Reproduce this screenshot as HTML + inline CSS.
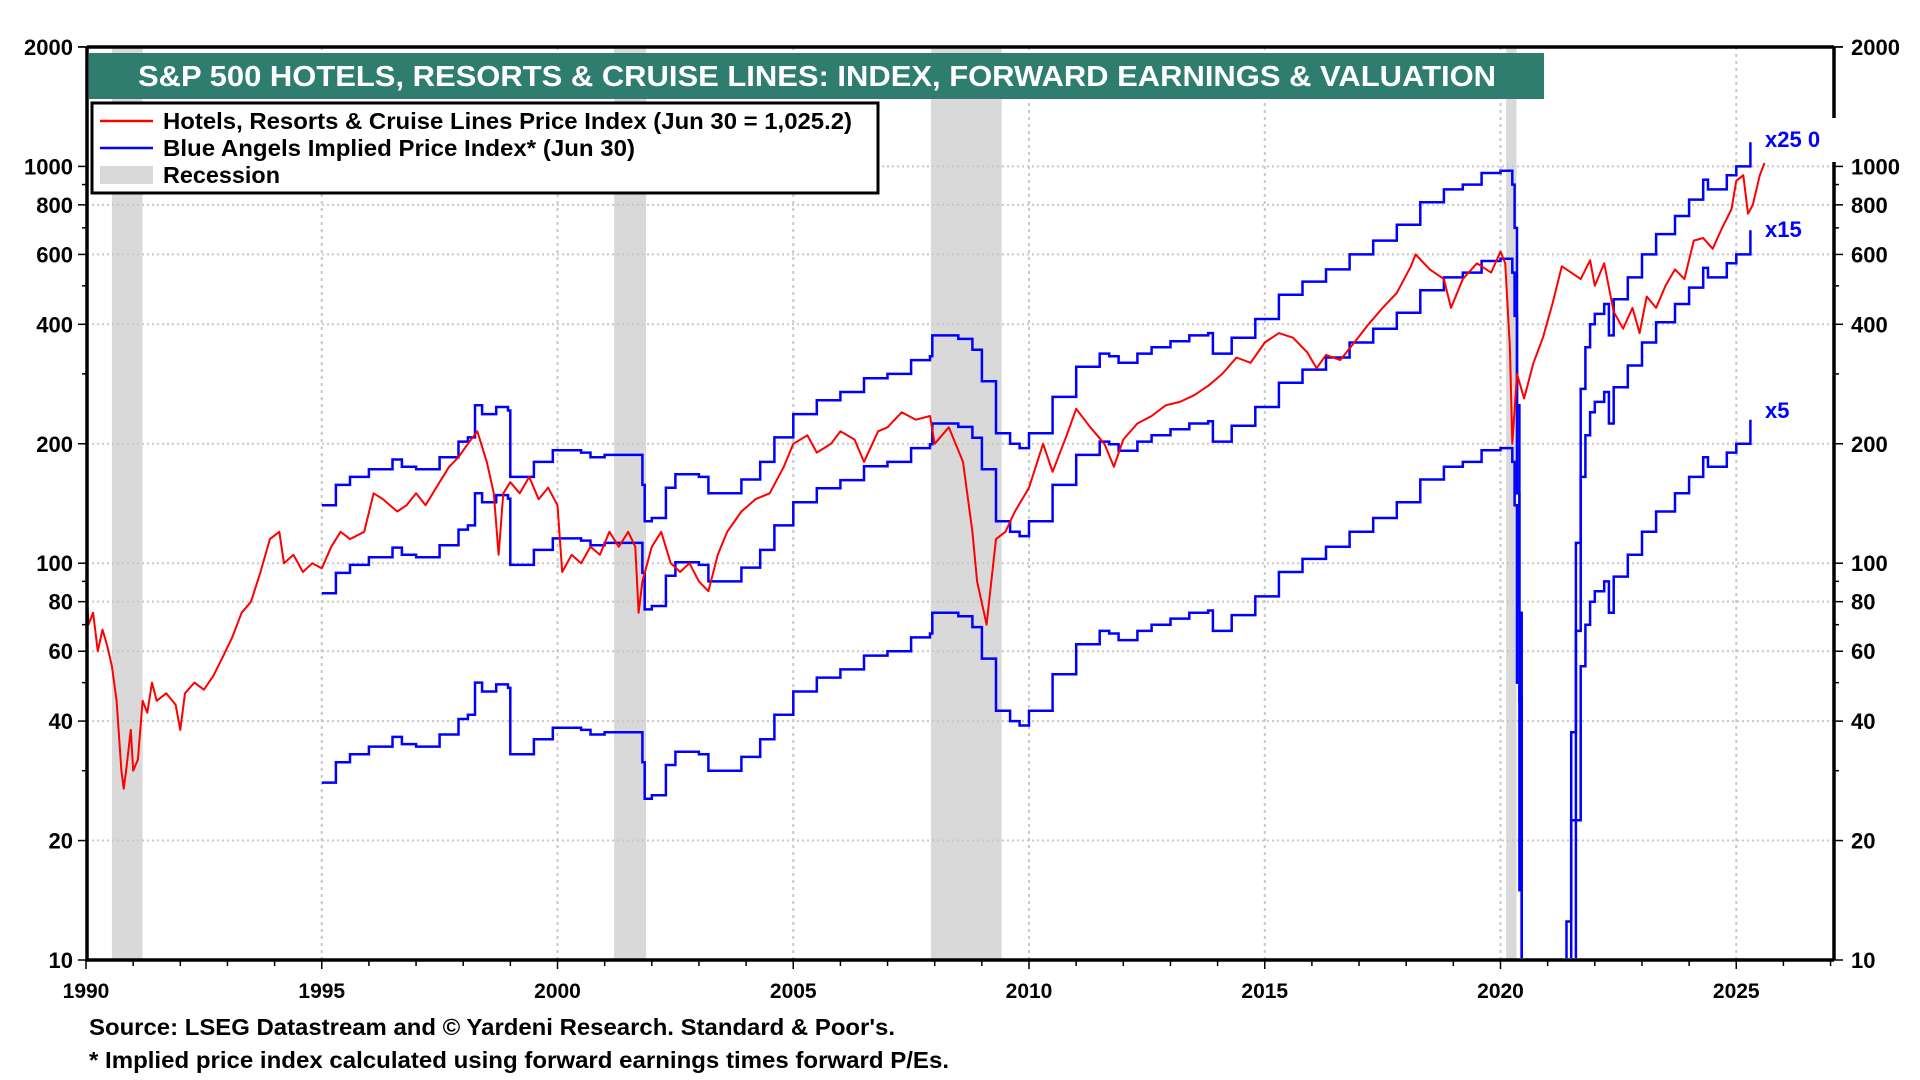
<!DOCTYPE html>
<html><head><meta charset="utf-8"><style>
html,body{margin:0;padding:0;background:#fff;overflow:hidden;width:1920px;height:1080px;}
svg{display:block;font-family:"Liberation Sans",Arial,sans-serif;}
</style></head><body>
<svg id="chart" width="1920" height="1080" viewBox="0 0 1920 1080" xmlns="http://www.w3.org/2000/svg">
<defs><clipPath id="plotclip"><rect x="88" y="49" width="1744" height="909"/></clipPath></defs>
<g id="recessions"></g>
<g id="grid"></g>
<g id="series" clip-path="url(#plotclip)"></g>
<g id="axes"></g>
<rect x="89" y="53" width="1455" height="46" fill="#2e7d6f"/>
<text x="138" y="86" font-size="29" font-weight="bold" fill="#fff" textLength="1358" lengthAdjust="spacingAndGlyphs">S&amp;P 500 HOTELS, RESORTS &amp; CRUISE LINES: INDEX, FORWARD EARNINGS &amp; VALUATION</text>
<g>
<rect x="92" y="103" width="786" height="90" fill="#fff" stroke="#000" stroke-width="3"/>
<line x1="100" y1="121" x2="153" y2="121" stroke="#ff0000" stroke-width="2.5"/>
<text x="163" y="129" font-size="23" font-weight="bold" textLength="689" lengthAdjust="spacingAndGlyphs">Hotels, Resorts &amp; Cruise Lines Price Index (Jun 30 = 1,025.2)</text>
<line x1="100" y1="148" x2="153" y2="148" stroke="#0000ff" stroke-width="2.5"/>
<text x="163" y="156" font-size="23" font-weight="bold" textLength="472" lengthAdjust="spacingAndGlyphs">Blue Angels Implied Price Index* (Jun 30)</text>
<rect x="100" y="166" width="53" height="18" fill="#d9d9d9"/>
<text x="163" y="183" font-size="23" font-weight="bold" textLength="117" lengthAdjust="spacingAndGlyphs">Recession</text>
</g>
<text x="1765" y="147" font-size="22" font-weight="bold" fill="#0000ff">x25  0</text>
<text x="1765" y="237" font-size="22" font-weight="bold" fill="#0000ff">x15</text>
<text x="1765" y="418" font-size="22" font-weight="bold" fill="#0000ff">x5</text>
<text x="89" y="1035" font-size="23" font-weight="bold" textLength="806" lengthAdjust="spacingAndGlyphs">Source: LSEG Datastream and © Yardeni Research. Standard &amp; Poor's.</text>
<text x="89" y="1068" font-size="23" font-weight="bold" textLength="860" lengthAdjust="spacingAndGlyphs">* Implied price index calculated using forward earnings times forward P/Es.</text>
</svg>
<script>
const yTicks = [10,20,40,60,80,100,200,400,600,800,1000,2000];
const xTicks = [1990,1995,2000,2005,2010,2015,2020,2025];
const recessionStart = [1990.55,2001.2,2007.92,2020.12];
const recessionEnd = [1991.2,2001.88,2009.42,2020.34];
const multiples = [5,15,25];
const epsYears = [1995.0,1995.3,1995.6,1996.0,1996.5,1996.7,1997.0,1997.5,1997.9,1998.1,1998.25,1998.4,1998.7,1998.95,1999.0,1999.5,1999.9,2000.5,2000.7,2001.0,2001.7,2001.8,2001.85,2002.0,2002.3,2002.5,2003.0,2003.2,2003.5,2003.9,2004.3,2004.6,2005.0,2005.5,2006.0,2006.5,2007.0,2007.5,2007.9,2007.95,2008.5,2008.8,2009.0,2009.3,2009.6,2009.8,2010.0,2010.5,2011.0,2011.5,2011.7,2011.9,2012.3,2012.6,2013.0,2013.4,2013.8,2013.9,2014.3,2014.8,2015.3,2015.8,2016.3,2016.8,2017.3,2017.8,2018.3,2018.8,2019.2,2019.6,2020.0,2020.15,2020.25,2020.3,2020.35,2020.4,2020.45,2021.35,2021.4,2021.5,2021.6,2021.7,2021.8,2021.9,2022.0,2022.2,2022.3,2022.4,2022.7,2023.0,2023.3,2023.7,2024.0,2024.3,2024.4,2024.8,2025.0,2025.3];
const epsValues = [5.6,6.3,6.6,6.9,7.3,7.0,6.9,7.4,8.1,8.3,10.0,9.5,9.9,9.7,6.6,7.2,7.7,7.6,7.4,7.5,7.5,6.3,5.1,5.2,6.2,6.7,6.6,6.0,6.0,6.5,7.2,8.3,9.5,10.3,10.8,11.7,12.0,13.0,13.3,15.0,14.7,13.8,11.5,8.5,8.0,7.8,8.5,10.5,12.5,13.5,13.3,12.8,13.5,14.0,14.5,15.0,15.2,13.5,14.8,16.5,19.0,20.5,22.0,24.0,26.0,28.5,32.5,35.0,36.0,38.5,39.0,39.0,36,28,10,3,0.1,0.1,0.5,1.5,4.5,11,14,16,17,18,15,18.5,21,24,27,30,33,37,35,38,40,46];
const priceYears = [1990.0,1990.05,1990.15,1990.25,1990.35,1990.45,1990.55,1990.65,1990.75,1990.8,1990.85,1990.95,1991.0,1991.1,1991.2,1991.3,1991.4,1991.5,1991.7,1991.9,1992.0,1992.1,1992.3,1992.5,1992.7,1992.9,1993.1,1993.3,1993.5,1993.7,1993.9,1994.1,1994.2,1994.4,1994.6,1994.8,1995.0,1995.2,1995.4,1995.6,1995.9,1996.1,1996.3,1996.6,1996.8,1997.0,1997.2,1997.5,1997.7,1997.9,1998.1,1998.3,1998.5,1998.65,1998.75,1998.85,1999.0,1999.2,1999.4,1999.6,1999.8,2000.0,2000.1,2000.3,2000.5,2000.7,2000.9,2001.1,2001.3,2001.5,2001.65,2001.72,2001.8,2002.0,2002.2,2002.4,2002.6,2002.8,2003.0,2003.2,2003.4,2003.6,2003.9,2004.2,2004.5,2004.8,2005.0,2005.3,2005.5,2005.8,2006.0,2006.3,2006.5,2006.8,2007.0,2007.3,2007.6,2007.9,2008.0,2008.3,2008.6,2008.8,2008.9,2009.1,2009.2,2009.3,2009.5,2009.7,2010.0,2010.3,2010.5,2010.8,2011.0,2011.3,2011.6,2011.8,2012.0,2012.3,2012.6,2012.9,2013.2,2013.5,2013.8,2014.1,2014.4,2014.7,2015.0,2015.3,2015.6,2015.9,2016.1,2016.3,2016.6,2016.9,2017.2,2017.5,2017.8,2018.1,2018.2,2018.5,2018.8,2018.95,2019.2,2019.5,2019.8,2020.0,2020.1,2020.2,2020.25,2020.35,2020.5,2020.7,2020.9,2021.1,2021.3,2021.5,2021.7,2021.9,2022.0,2022.2,2022.4,2022.6,2022.8,2022.95,2023.1,2023.3,2023.5,2023.7,2023.9,2024.1,2024.3,2024.5,2024.7,2024.9,2025.0,2025.15,2025.25,2025.35,2025.5,2025.6];
const priceValues = [95,70,75,60,68,62,55,45,30,27,30,38,30,32,45,42,50,45,47,44,38,47,50,48,52,58,65,75,80,95,115,120,100,105,95,100,97,110,120,115,120,150,145,135,140,150,140,160,175,185,200,215,180,150,105,150,160,150,165,145,155,140,95,105,100,110,105,120,110,120,110,75,90,110,120,100,95,100,90,85,105,120,135,145,150,175,200,210,190,200,215,205,180,215,220,240,230,235,200,220,180,120,90,70,90,115,120,135,155,200,170,210,245,220,200,175,205,225,235,250,255,265,280,300,330,320,360,380,370,340,310,335,325,360,400,440,480,560,600,550,520,440,520,570,540,610,570,350,200,300,260,320,370,450,560,540,520,580,500,570,430,390,440,380,470,440,500,550,520,650,660,620,700,780,920,950,760,800,950,1020];

const X0=86, PX=47.15, Y10=960, PD=396.8, LEFT=87, RIGHT=1834, TOP=47;
const xs = y => X0 + (y-1990)*PX;
const ys = v => Y10 - (Math.log10(Math.max(v,0.5))-1)*PD;
const NS='http://www.w3.org/2000/svg';
function mk(tag, attrs, parent){const e=document.createElementNS(NS,tag);for(const k in attrs)e.setAttribute(k,attrs[k]);parent.appendChild(e);return e;}
const gR=document.getElementById('recessions'), gG=document.getElementById('grid'), gS=document.getElementById('series'), gA=document.getElementById('axes');

for(let i=0;i<recessionStart.length;i++){
  const r=mk('rect',{x:xs(recessionStart[i]),y:TOP,width:xs(recessionEnd[i])-xs(recessionStart[i]),height:Y10-TOP,fill:'#d9d9d9'},gR);
  
  
}
yTicks.forEach(v=>{
  if(v===10||v===2000) return;
  const l=mk('line',{x1:LEFT,x2:RIGHT,y1:ys(v),y2:ys(v),stroke:'#c8c8c8','stroke-width':2,'stroke-dasharray':'2,3'},gG);
  
  
});
xTicks.forEach(y=>{
  if(y===1990) return;
  const l=mk('line',{x1:xs(y),x2:xs(y),y1:TOP,y2:Y10,stroke:'#c8c8c8','stroke-width':2,'stroke-dasharray':'3,4'},gG);
  
  
});

function stepPath(years, vals, mult){
  let d='';
  for(let i=0;i<years.length;i++){
    const x=xs(years[i]), y=ys(vals[i]*mult);
    if(i===0) d+='M'+x.toFixed(1)+','+y.toFixed(1);
    else d+='H'+x.toFixed(1)+'V'+y.toFixed(1);
  }
  return d;
}
multiples.forEach(m=>{
  const p=mk('path',{d:stepPath(epsYears,epsValues,m),fill:'none',stroke:'#0000ff','stroke-width':2.5},gS);
  
  
});
let dp='';
for(let i=0;i<priceYears.length;i++){
  dp+=(i?'L':'M')+xs(priceYears[i]).toFixed(1)+','+ys(priceValues[i]).toFixed(1);
}
const pr=mk('path',{d:dp,fill:'none',stroke:'#ff0000','stroke-width':2,'stroke-linejoin':'round'},gS);



const fr=mk('path',{d:`M${LEFT},${TOP}H${RIGHT}M${LEFT},${TOP}V${Y10}H${RIGHT}M${RIGHT},${TOP}V118M${RIGHT},162V${Y10}`,fill:'none',stroke:'#000','stroke-width':3.5},gA);


const minors=[];
for(let d=10;d<=1000;d*=10){for(let k=1;k<10;k++){const v=d*k; if(v>=10&&v<=2000) minors.push(v);}}
minors.push(2000);
minors.forEach(v=>{
  const big=yTicks.includes(v);
  const a=mk('line',{x1:LEFT-(big?9:5),x2:LEFT,y1:ys(v),y2:ys(v),stroke:'#000','stroke-width':1.5},gA);
  
  
  const b=mk('line',{x1:RIGHT,x2:RIGHT+(big?9:5),y1:ys(v),y2:ys(v),stroke:'#000','stroke-width':1.5},gA);
  
  
});
yTicks.forEach(v=>{
  const t=mk('text',{x:LEFT-14,y:ys(v)+8,'text-anchor':'end','font-size':22,'font-weight':'bold'},gA);
  t.textContent=v;
  
  
  const t2=mk('text',{x:RIGHT+17,y:ys(v)+8,'font-size':22,'font-weight':'bold'},gA);
  t2.textContent=v;
  
  
});
for(let y=1990;y<=2027;y++){
  const big=xTicks.includes(y);
  const l=mk('line',{x1:xs(y),x2:xs(y),y1:Y10,y2:Y10+(big?9:6),stroke:'#000','stroke-width':1.5},gA);
  
  
}
xTicks.forEach(y=>{
  const t=mk('text',{x:xs(y),y:Y10+38,'text-anchor':'middle','font-size':21,'font-weight':'bold'},gA);
  t.textContent=y;
  
  
});
</script>
</body></html>
